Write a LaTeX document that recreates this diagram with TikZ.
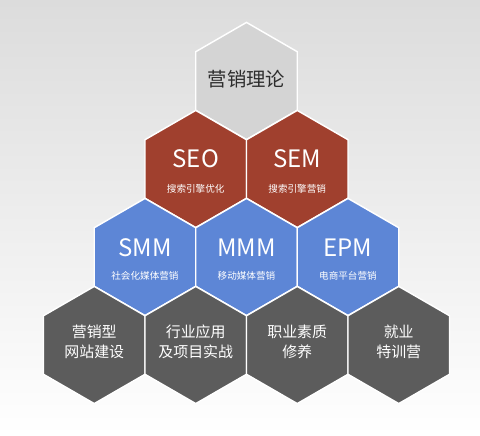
\documentclass[tikz,border=0pt]{standalone}
\usepackage{fontspec}
\setmainfont{Noto Sans CJK SC}
\usepackage{tikz}
\usetikzlibrary{calc}
\usetikzlibrary{shapes.geometric}
\definecolor{hexGray}{RGB}{212,212,212}
\definecolor{hexRed}{RGB}{160,64,46}
\definecolor{hexBlue}{RGB}{93,134,214}
\definecolor{hexDark}{RGB}{92,92,92}
\definecolor{bgTop}{RGB}{220,220,220}
\definecolor{textDark}{RGB}{45,45,45}
\tikzset{
  defaultHex/.style={%
    regular polygon, regular polygon sides=6, shape border rotate=30,
    minimum size=87.9pt, inner sep=0pt, draw=white, line width=1.1pt,
  },
  abbrLabel/.style={%
    text=white, font=\fontsize{18}{20}\selectfont,
  },
  subLabel/.style={%
    text=white, font=\fontsize{7.2}{9}\selectfont,
  },
  baseLabel/.style={%
    text=white, align=center, font=\fontsize{11.2}{15}\selectfont,
  }
}

\begin{document}
\begin{tikzpicture}[x=0.75pt,y=-0.75pt]

          \shade[top color=bgTop, bottom color=white] (0,0) rectangle (480,436);
          \useasboundingbox (0,0) rectangle (480,436);

          \node[defaultHex,fill=hexGray] (hexTop) at (246.5,81) {} ;

          \node[defaultHex,fill=hexRed] (hexSEO) at (195.75,169) {} ;
          \node[defaultHex,fill=hexRed] (hexSEM) at (297.25,169) {} ;

          \node[defaultHex,fill=hexBlue] (hexSMM) at (145,257) {} ;
          \node[defaultHex,fill=hexBlue] (hexMMM) at (246.5,257) {} ;
          \node[defaultHex,fill=hexBlue] (hexEPM) at (348,257) {} ;

          \node[defaultHex,fill=hexDark] (hexWeb) at (94.25,345) {} ;
          \node[defaultHex,fill=hexDark] (hexPro) at (195.75,345) {} ;
          \node[defaultHex,fill=hexDark] (hexQua) at (297.25,345) {} ;
          \node[defaultHex,fill=hexDark] (hexJob) at (398.75,345) {} ;

          \node[text=textDark,font=\fontsize{14.5}{16}\selectfont] (labTop) at ([yshift=1.5pt]hexTop) {营销理论} ;

          \node[abbrLabel] (abbrSEO) at ([yshift=8pt]hexSEO) {SEO} ;
          \node[subLabel] (subSEO) at ([yshift=-15pt]hexSEO) {搜索引擎优化} ;
          \node[abbrLabel] (abbrSEM) at ([yshift=8pt]hexSEM) {SEM} ;
          \node[subLabel] (subSEM) at ([yshift=-15pt]hexSEM) {搜索引擎营销} ;

          \node[abbrLabel] (abbrSMM) at ([yshift=7pt]hexSMM) {SMM} ;
          \node[subLabel] (subSMM) at ([yshift=-14.5pt]hexSMM) {社会化媒体营销} ;
          \node[abbrLabel] (abbrMMM) at ([yshift=7pt]hexMMM) {MMM} ;
          \node[subLabel] (subMMM) at ([yshift=-14.5pt]hexMMM) {移动媒体营销} ;
          \node[abbrLabel] (abbrEPM) at ([yshift=7pt]hexEPM) {EPM} ;
          \node[subLabel] (subEPM) at ([yshift=-14.5pt]hexEPM) {电商平台营销} ;

          \node[baseLabel] (labWeb) at ([yshift=2.5pt]hexWeb) {营销型\\网站建设} ;
          \node[baseLabel] (labPro) at ([yshift=2.5pt]hexPro) {行业应用\\及项目实战} ;
          \node[baseLabel] (labQua) at ([yshift=2.5pt]hexQua) {职业素质\\修养} ;
          \node[baseLabel] (labJob) at ([yshift=2.5pt]hexJob) {就业\\特训营} ;

        \end{tikzpicture}
\end{document}
